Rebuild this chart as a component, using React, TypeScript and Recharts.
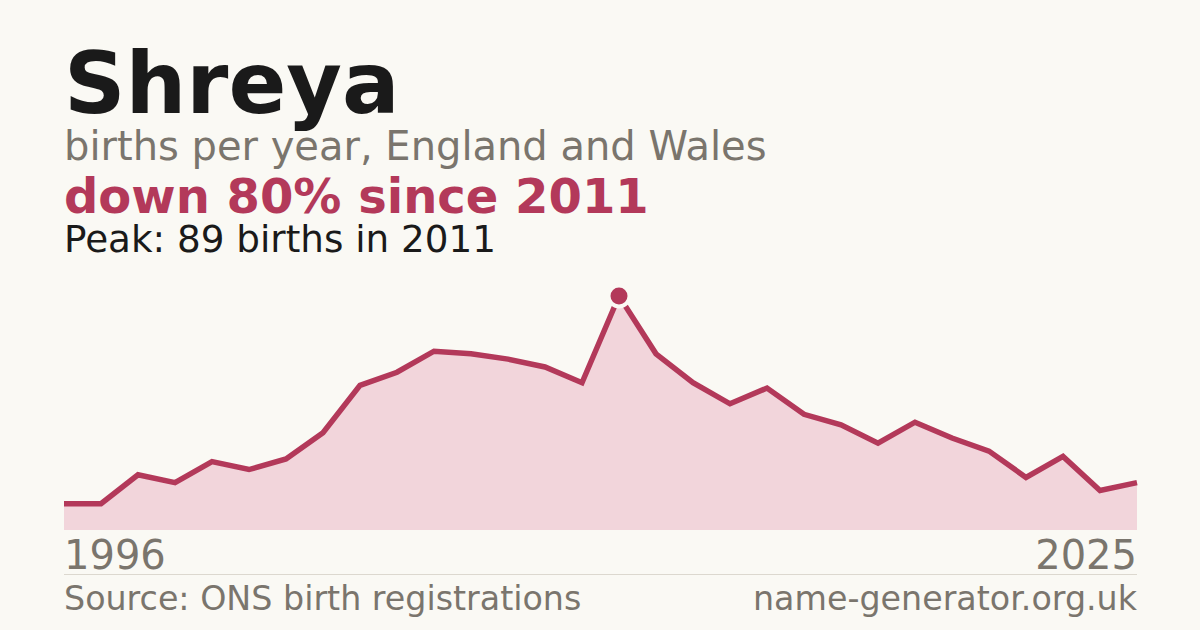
import React from "react";
import { AreaChart, Area, XAxis, YAxis, ReferenceDot } from "recharts";

const years = [
  1996, 1997, 1998, 1999, 2000, 2001, 2002, 2003, 2004, 2005,
  2006, 2007, 2008, 2009, 2010, 2011, 2012, 2013, 2014, 2015,
  2016, 2017, 2018, 2019, 2020, 2021, 2022, 2023, 2024, 2025,
];
const births = [
  10, 10, 21, 18, 26, 23, 27, 37, 55, 60,
  68, 67, 65, 62, 56, 89, 67, 56, 48, 54,
  44, 40, 33, 41, 35, 30, 20, 28, 15, 18,
];
const peakYear = 2011;
const peakValue = 89;

const title = "Shreya";
const subtitle = "births per year, England and Wales";
const headline = "down 80% since 2011";
const peakText = "Peak: 89 births in 2011";
const firstLabel = "1996";
const lastLabel = "2025";
const sourceText = "Source: ONS birth registrations";
const siteText = "name-generator.org.uk";

const data = years.map((y, i) => ({ year: y, births: births[i] }));

const BG = "#faf9f4";
const RED = "#b3395a";
const FILL = "#f2d5db";
const GRAY = "#7a756d";
const DARK = "#1a1a1a";
const FONT = "'DejaVu Sans', sans-serif";

export default function App() {
  return (
    <div
      style={{
        position: "absolute",
        left: 0,
        top: 0,
        width: 1200,
        height: 630,
        background: BG,
        overflow: "hidden",
      }}
    >
      <div style={{ position: "absolute", left: 0, top: 0 }}>
        <AreaChart
          width={1200}
          height={630}
          data={data}
          margin={{ top: 296, left: 64, right: 63, bottom: 100 }}
        >
          <XAxis dataKey="year" hide />
          <YAxis hide domain={[0, peakValue]} />
          <Area
            type="linear"
            dataKey="births"
            stroke={RED}
            strokeWidth={5.5}
            fill={FILL}
            fillOpacity={1}
            isAnimationActive={false}
            dot={false}
            activeDot={false}
          />
          <ReferenceDot
            x={peakYear}
            y={peakValue}
            r={10.5}
            fill={RED}
            stroke={BG}
            strokeWidth={4}
            ifOverflow="visible"
          />
        </AreaChart>
      </div>
      <svg
        width={1200}
        height={630}
        style={{ position: "absolute", left: 0, top: 0, pointerEvents: "none" }}
      >
        <text x={64} y={113} fontFamily={FONT} fontWeight="bold" fontSize={85.4} fill={DARK}>
          {title}
        </text>
        <text x={64} y={160} fontFamily={FONT} fontSize={40} fill={GRAY}>
          {subtitle}
        </text>
        <text x={64} y={213} fontFamily={FONT} fontWeight="bold" fontSize={48} fill={RED}>
          {headline}
        </text>
        <text x={64} y={252} fontFamily={FONT} fontSize={37.3} fill={DARK}>
          {peakText}
        </text>
        <text x={64} y={569} fontFamily={FONT} fontSize={40} fill={GRAY}>
          {firstLabel}
        </text>
        <text x={1137} y={569} fontFamily={FONT} fontSize={40} fill={GRAY} textAnchor="end">
          {lastLabel}
        </text>
        <line x1={64} x2={1137} y1={574.5} y2={574.5} stroke="#dcd8cf" strokeWidth={1} />
        <text x={64} y={610} fontFamily={FONT} fontSize={33.3} fill={GRAY}>
          {sourceText}
        </text>
        <text x={1137} y={610} fontFamily={FONT} fontSize={33.3} fill={GRAY} textAnchor="end">
          {siteText}
        </text>
      </svg>
    </div>
  );
}
